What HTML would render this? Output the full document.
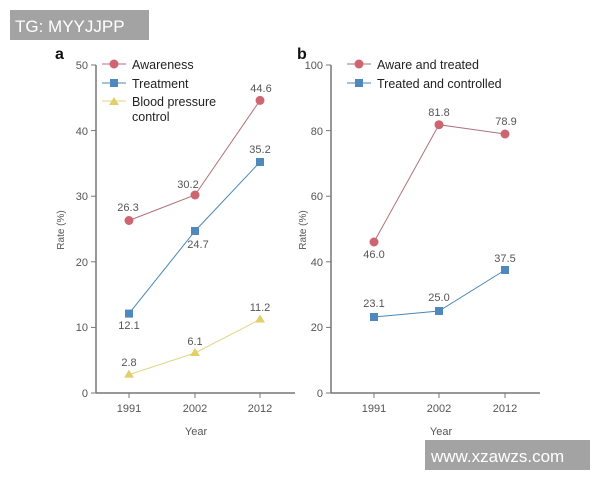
<!DOCTYPE html>
<html><head><style>body{margin:0;background:#fff}svg{display:block;font-family:"Liberation Sans",sans-serif}</style></head><body>
<svg width="600" height="480" viewBox="0 0 600 480">
<rect width="600" height="480" fill="#fff"/>
<g fill="#555" font-size="11" stroke="none">
<!-- left panel -->
<text x="55" y="59" font-size="16" font-weight="bold" fill="#111">a</text>
<line x1="96" y1="65" x2="96" y2="393" stroke="#777" stroke-width="1.5"/>
<line x1="96" y1="393" x2="295" y2="393" stroke="#777" stroke-width="1.5"/>
<g stroke="#777" stroke-width="1"><line x1="91" y1="65" x2="96" y2="65"/><line x1="91" y1="130.6" x2="96" y2="130.6"/><line x1="91" y1="196.2" x2="96" y2="196.2"/><line x1="91" y1="261.8" x2="96" y2="261.8"/><line x1="91" y1="327.4" x2="96" y2="327.4"/><line x1="91" y1="393" x2="96" y2="393"/>
<line x1="129" y1="393" x2="129" y2="398"/><line x1="195" y1="393" x2="195" y2="398"/><line x1="260" y1="393" x2="260" y2="398"/></g>
<g text-anchor="end"><text x="88" y="69">50</text><text x="88" y="135">40</text><text x="88" y="200">30</text><text x="88" y="266">20</text><text x="88" y="331">10</text><text x="88" y="397">0</text></g>
<g text-anchor="middle"><text x="129" y="412">1991</text><text x="195" y="412">2002</text><text x="260" y="412">2012</text><text x="196" y="435">Year</text>
<text transform="translate(64,230) rotate(-90)" font-size="10">Rate (%)</text></g>
<polyline points="129,220.5 195,195 260,100.4" fill="none" stroke="#b07078" stroke-width="1"/>
<polyline points="129,313.6 195,231 260,162" fill="none" stroke="#4a86b8" stroke-width="1"/>
<polyline points="129,374.6 195,353 260,319.5" fill="none" stroke="#e0d58a" stroke-width="1"/>
<g fill="#cd6670"><circle cx="129" cy="220.5" r="4.5"/><circle cx="195" cy="195" r="4.5"/><circle cx="260" cy="100.4" r="4.5"/></g>
<g fill="#4f88bb"><rect x="125" y="309.6" width="8" height="8"/><rect x="191" y="227" width="8" height="8"/><rect x="256" y="158" width="8" height="8"/></g>
<g fill="#e2cf6a"><path d="M129,369.6 l5,8 h-10z"/><path d="M195,348 l5,8 h-10z"/><path d="M260,314.5 l5,8 h-10z"/></g>
<g text-anchor="middle"><text x="128" y="211">26.3</text><text x="188" y="188">30.2</text><text x="261" y="92">44.6</text>
<text x="260" y="153">35.2</text><text x="198" y="248">24.7</text><text x="129" y="329">12.1</text>
<text x="129" y="366">2.8</text><text x="195" y="345">6.1</text><text x="260" y="311">11.2</text></g>
<!-- legend a -->
<line x1="102" y1="64" x2="126" y2="64" stroke="#b07078"/><circle cx="114" cy="64" r="4.5" fill="#cd6670"/>
<line x1="102" y1="83" x2="126" y2="83" stroke="#4a86b8"/><rect x="110" y="79" width="8" height="8" fill="#4f88bb"/>
<line x1="102" y1="101" x2="126" y2="101" stroke="#e0d58a"/><path d="M114,97 l5,8 h-10z" fill="#e2cf6a"/>
<g font-size="12.5" fill="#222"><text x="132" y="69">Awareness</text><text x="132" y="88">Treatment</text><text x="132" y="106">Blood pressure</text><text x="132" y="121">control</text></g>
<!-- right panel -->
<text x="297" y="59" font-size="16" font-weight="bold" fill="#111">b</text>
<line x1="331" y1="65" x2="331" y2="393" stroke="#777" stroke-width="1.5"/>
<line x1="331" y1="393" x2="540" y2="393" stroke="#777" stroke-width="1.5"/>
<g stroke="#777" stroke-width="1"><line x1="326" y1="65" x2="331" y2="65"/><line x1="326" y1="130.6" x2="331" y2="130.6"/><line x1="326" y1="196.2" x2="331" y2="196.2"/><line x1="326" y1="261.8" x2="331" y2="261.8"/><line x1="326" y1="327.4" x2="331" y2="327.4"/><line x1="326" y1="393" x2="331" y2="393"/>
<line x1="374" y1="393" x2="374" y2="398"/><line x1="439" y1="393" x2="439" y2="398"/><line x1="505" y1="393" x2="505" y2="398"/></g>
<g text-anchor="end"><text x="323" y="69">100</text><text x="323" y="135">80</text><text x="323" y="200">60</text><text x="323" y="266">40</text><text x="323" y="331">20</text><text x="323" y="397">0</text></g>
<g text-anchor="middle"><text x="374" y="412">1991</text><text x="439" y="412">2002</text><text x="505" y="412">2012</text><text x="441" y="435">Year</text>
<text transform="translate(306,230) rotate(-90)" font-size="10">Rate (%)</text></g>
<polyline points="374,242 439,124.7 505,134" fill="none" stroke="#b07078" stroke-width="1"/>
<polyline points="374,317 439,311 505,270" fill="none" stroke="#4a86b8" stroke-width="1"/>
<g fill="#cd6670"><circle cx="374" cy="242" r="4.5"/><circle cx="439" cy="124.7" r="4.5"/><circle cx="505" cy="134" r="4.5"/></g>
<g fill="#4f88bb"><rect x="370" y="313" width="8" height="8"/><rect x="435" y="307" width="8" height="8"/><rect x="501" y="266" width="8" height="8"/></g>
<g text-anchor="middle"><text x="374" y="258">46.0</text><text x="439" y="116">81.8</text><text x="506" y="125">78.9</text>
<text x="374" y="307">23.1</text><text x="439" y="301">25.0</text><text x="505" y="262">37.5</text></g>
<line x1="347" y1="64" x2="371" y2="64" stroke="#b07078"/><circle cx="359" cy="64" r="4.5" fill="#cd6670"/>
<line x1="347" y1="83" x2="371" y2="83" stroke="#4a86b8"/><rect x="355" y="79" width="8" height="8" fill="#4f88bb"/>
<g font-size="12.5" fill="#222"><text x="377" y="69">Aware and treated</text><text x="377" y="88">Treated and controlled</text></g>
</g>
<rect x="10" y="10" width="139" height="30" fill="#a3a3a3"/>
<text x="15" y="32" font-size="17" fill="#fff">TG: MYYJJPP</text>
<rect x="425" y="440" width="165" height="30" fill="#a3a3a3"/>
<text x="431" y="462" font-size="17" fill="#fff">www.xzawzs.com</text>
</svg>
</body></html>
